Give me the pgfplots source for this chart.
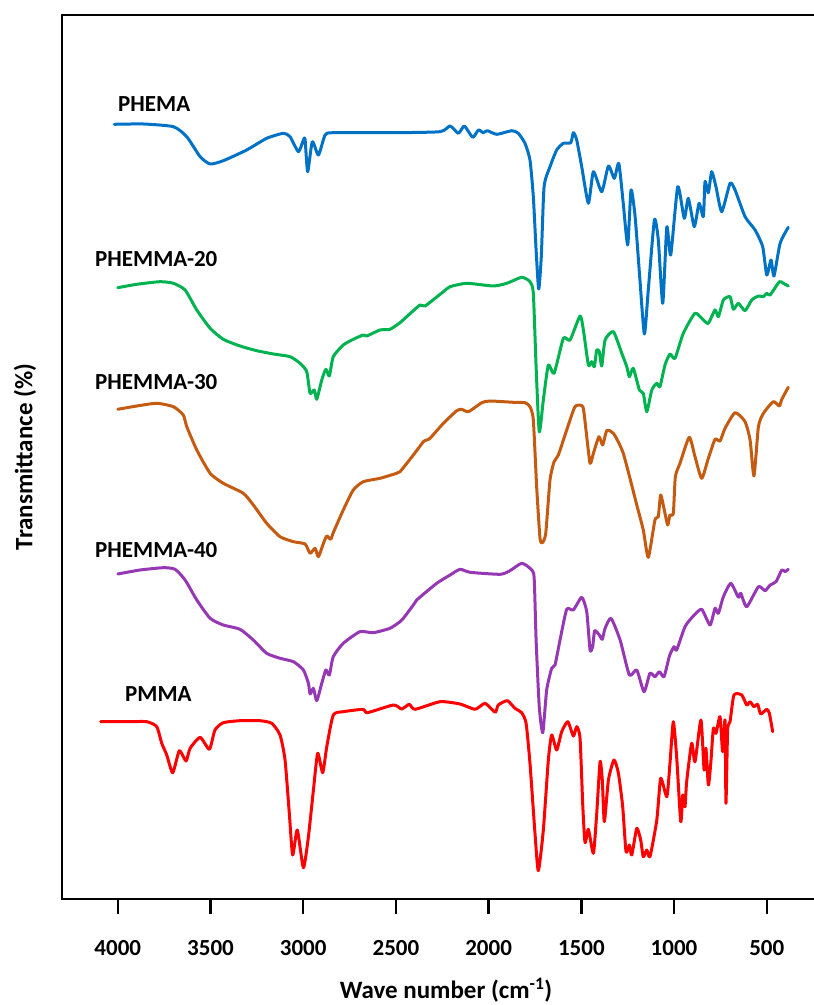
\documentclass[border=0pt]{standalone}
\usepackage{fontspec}
\setmainfont{Carlito}
\usepackage{pgfplots}
\pgfplotsset{compat=1.18}

\definecolor{cBlue}{RGB}{0,114,198}
\definecolor{cGreen}{RGB}{0,178,80}
\definecolor{cOrange}{RGB}{197,90,17}
\definecolor{cPurple}{RGB}{150,55,180}
\definecolor{cRed}{RGB}{255,0,0}

\newcommand{\lblfont}{\fontsize{23}{23}\selectfont\bfseries}
\newcommand{\ttlfont}{\fontsize{25}{25}\selectfont\bfseries}

\begin{document}
\begin{tikzpicture}
\begin{axis}[
  name=ax, at={(0pt,0pt)}, anchor=south west,
  scale only axis, width=768pt, height=884pt,
  x dir=reverse, xmin=159, xmax=4301, ymin=0, ymax=884,
  xtick={500,1000,...,4000}, ytick=\empty,
  xtick pos=left, tick align=outside, major tick length=15pt,
  tick style={line width=2.5pt, black},
  axis line style={line width=2.5pt},
  /pgf/number format/1000 sep={},
  /pgf/number format/assume math mode=true,
  xticklabel style={font=\lblfont, inner sep=0pt, yshift=-26pt},
  clip=false,
  every axis plot/.append style={line width=3pt, line join=round, line cap=round, smooth, tension=0.35},
]
% PHEMA
\addplot[cBlue] coordinates {(4019,774.7)(3862,775)(3700,772.3)(3628,762.3)(3556,742.3)(3502,735)(3431,738.3)(3305,749)(3197,760.7)(3107,765.7)(3071,762.3)(3026,747.3)(2999,759)(2990,759.7)(2976,727.3)(2951,757.3)(2918,744)(2882,764)(2838,766.3)(2514,766.3)(2262,767.3)(2208,773)(2163,765.7)(2131,773)(2086,761.7)(2055,769)(2029,766.3)(2007,768.3)(1956,764.7)(1875,768.3)(1840,765.7)(1804,755.7)(1777,739)(1759,702.3)(1744,649)(1730,610)(1716,642.3)(1701,712.3)(1669,732.3)(1633,749)(1597,755.7)(1557,756.3)(1543,766.3)(1525,759)(1498,732.3)(1462,695.7)(1435,727.3)(1390,707.3)(1354,733)(1322,720.7)(1298,735.7)(1274,695.7)(1250,654)(1232,709)(1210,682.3)(1184,619)(1160,565)(1139,609)(1106,679)(1085,659)(1061,595.7)(1039,672.3)(1018,644)(980,712.3)(945,680.7)(923,700.7)(891,672.3)(865,695.7)(842,682.3)(833,717.3)(815,706.3)(797,727.3)(774,712.3)(743,687.3)(698,715.7)(671,709)(617,682.3)(563,669)(522,652.3)(500,624)(477,639)(461,623)(428,655.7)(384,671.7)};
% PHEMMA-20
\addplot[cGreen] coordinates {(4000,611.3)(3898,614.7)(3772,617.3)(3700,615.7)(3637,609)(3574,589)(3502,570.7)(3431,559.7)(3341,553)(3251,548.3)(3161,545)(3071,542.3)(3017,535.7)(2981,527.3)(2963,505.7)(2940,509)(2927,499.7)(2900,519)(2878,529.7)(2859,523)(2838,542.3)(2784,554)(2730,559.7)(2676,564)(2657,563)(2586,569)(2532,569.7)(2478,576.3)(2442,582.3)(2370,594)(2343,593)(2244,607.3)(2208,612.3)(2118,615.7)(1975,613)(1902,615.7)(1822,621.7)(1777,617.3)(1759,605.7)(1744,532.3)(1727,467.3)(1705,499)(1678,534)(1647,525.7)(1597,560.7)(1561,559)(1507,583)(1489,569)(1462,534)(1444,537.3)(1430,532.3)(1417,549)(1403,547.3)(1390,533)(1372,559)(1327,567.3)(1282,545.7)(1255,532.3)(1241,522.3)(1220,530.7)(1187,509)(1166,505.7)(1147,487.3)(1120,509)(1093,515.7)(1076,512.3)(1049,534)(1022,545)(995,540.7)(950,565.7)(887,585.7)(842,579)(815,575.7)(779,589)(761,582.3)(734,599)(698,602.3)(680,589.7)(653,595.7)(617,588.3)(581,599)(545,603)(518,602.3)(500,605.7)(482,604)(432,617.3)(411,615.7)(384,613)};
% PHEMMA-30
\addplot[cOrange] coordinates {(4000,489.7)(3898,493)(3790,495.7)(3700,492.3)(3647,484)(3628,472.3)(3574,449)(3502,425.7)(3431,415.7)(3323,405.7)(3269,394)(3197,375.7)(3125,362.3)(3053,357.3)(2990,355)(2963,345.7)(2936,350.7)(2918,342.3)(2891,355.7)(2873,363)(2852,359.7)(2838,366.3)(2784,389)(2730,409)(2676,417.3)(2586,420.7)(2496,425.7)(2478,427.3)(2406,444)(2352,457.3)(2334,459)(2316,460.7)(2244,475.7)(2172,488.3)(2145,489.7)(2109,487.3)(2037,496.3)(1992,498)(1867,496.7)(1804,496.3)(1777,492.3)(1759,479)(1741,412.3)(1723,360.7)(1710,356.3)(1692,365.7)(1669,419)(1647,437.3)(1624,444)(1579,469)(1534,492.3)(1492,492.3)(1475,469)(1453,435.7)(1435,445.7)(1405,462.3)(1385,454)(1363,468.3)(1327,465.7)(1274,445.7)(1201,394)(1166,369)(1139,341.7)(1103,379)(1085,382.3)(1072,404)(1049,385.7)(1034,374)(1022,384)(1004,385.7)(993,422.3)(968,435.7)(918,461.7)(887,442.3)(851,420.7)(815,440.7)(779,459.7)(752,458)(725,470.7)(671,486.3)(617,477.3)(590,459)(569,423)(545,472.3)(518,485.7)(465,497.3)(432,493)(419,499.7)(384,511.7)};
% PHEMMA-40
\addplot[cPurple] coordinates {(4000,325)(3880,329)(3754,331.3)(3691,329.7)(3637,319)(3574,299)(3502,280.7)(3431,274)(3341,269.7)(3269,259)(3197,245.7)(3125,240.7)(3053,237.3)(2999,229)(2972,215.7)(2963,205)(2945,210.7)(2927,198.3)(2900,215.7)(2878,229)(2859,224)(2838,242.3)(2784,255.7)(2694,267.3)(2622,266.3)(2532,270.7)(2478,277.3)(2460,280.7)(2406,294)(2388,299)(2280,315.7)(2208,324)(2154,329.7)(2100,326.7)(1938,324.7)(1885,328.3)(1822,335.7)(1777,330.7)(1755,322.3)(1744,259)(1727,192.3)(1708,166.3)(1687,209)(1660,230.7)(1642,234)(1615,259)(1579,289.7)(1543,289)(1498,301.7)(1471,287.3)(1453,249)(1439,252.3)(1428,268.3)(1403,264)(1387,259.7)(1372,270.7)(1340,280.7)(1291,259)(1241,224)(1201,229)(1162,207.3)(1130,225.7)(1103,222.3)(1079,227.3)(1054,222.3)(1025,243)(1000,252.3)(986,249)(941,272.3)(896,283)(851,289.7)(806,274)(779,290.7)(761,285.7)(734,302.3)(694,315.7)(653,301.7)(640,305.7)(608,292.3)(545,312.3)(509,308.3)(482,314)(450,317.3)(419,329)(401,327.3)(384,329.7)};
% PMMA
\addplot[cRed] coordinates {(4092,177.3)(3952,177.3)(3844,177.3)(3790,172.3)(3763,155.7)(3736,144)(3704,126.3)(3668,148.3)(3632,138)(3610,150.7)(3556,161.7)(3506,149.7)(3476,169)(3431,176.3)(3341,178.3)(3233,178.3)(3170,175.7)(3125,164)(3098,139)(3075,85.7)(3057,44)(3032,69)(2999,31.3)(2972,62.3)(2945,109)(2922,145.7)(2895,126.3)(2873,152.3)(2838,184)(2784,187.3)(2676,189.7)(2654,186.3)(2514,194)(2469,190)(2428,194.7)(2397,189.7)(2262,197.3)(2154,195)(2073,189.7)(2019,195.7)(1965,186.7)(1948,194)(1899,198.3)(1858,190.7)(1822,186.3)(1798,175.7)(1777,135.7)(1750,65.7)(1732,28.3)(1705,69)(1678,139)(1660,164)(1633,149)(1606,167.3)(1573,177.3)(1543,163)(1525,172.3)(1507,160.7)(1492,92.3)(1480,56.3)(1462,69.7)(1435,45.7)(1417,85.7)(1399,137.3)(1387,119)(1376,77.3)(1354,119)(1324,139)(1300,125.7)(1277,92.3)(1259,47.3)(1241,54)(1228,44)(1201,70.7)(1180,59)(1166,42.3)(1147,49)(1130,42.3)(1093,79)(1072,120.7)(1039,102.3)(1022,135.7)(1004,177.3)(986,142.3)(964,77.3)(953,104)(941,92.3)(932,117.3)(905,155.7)(887,137.3)(855,179)(838,129)(828,150.7)(815,114)(802,135.7)(788,170.7)(774,165.7)(752,182.3)(738,147.3)(725,179)(720,95.7)(711,169)(698,177.3)(677,204)(635,204)(608,194)(590,197.3)(569,192.3)(549,194.7)(533,185)(500,189.7)(486,185.7)(468,167.3)};

% series names
\node[anchor=west, inner sep=0pt, font=\lblfont] at (axis cs:3999,795) {PHEMA};
\node[anchor=west, inner sep=0pt, font=\lblfont] at (axis cs:4123,640) {PHEMMA-20};
\node[anchor=west, inner sep=0pt, font=\lblfont] at (axis cs:4123,517) {PHEMMA-30};
\node[anchor=west, inner sep=0pt, font=\lblfont] at (axis cs:4123,349) {PHEMMA-40};
\node[anchor=west, inner sep=0pt, font=\lblfont] at (axis cs:3961,205) {PMMA};
\end{axis}
\node[font=\ttlfont, inner sep=0pt] at ([yshift=-91pt]ax.south) {Wave number (cm\textsuperscript{-1})};
\node[font=\ttlfont, inner sep=0pt, rotate=90] at ([xshift=-37pt]ax.west) {Transmittance (\%)};
\pgfresetboundingbox
\path[use as bounding box] ([xshift=-62pt,yshift=-106pt]ax.south west) rectangle ([xshift=-16pt,yshift=15pt]ax.north east);
\end{tikzpicture}
\end{document}
